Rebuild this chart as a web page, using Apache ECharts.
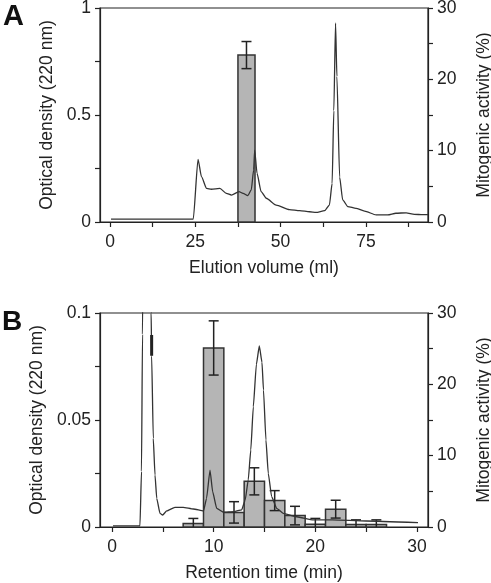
<!DOCTYPE html>
<html>
<head>
<meta charset="utf-8">
<script src="https://cdn.jsdelivr.net/npm/echarts@6/dist/echarts.min.js"></script>
<style>
html,body{margin:0;padding:0;background:#fff;}
#chart{width:491px;height:583px;}
</style>
</head>
<body>
<div id="chart"></div>
<script>
// ---- Panel A data ----
const elutionX = [0.3, 24.4, 25.8, 26.8, 28.3, 29.7, 32.2, 34.1, 35.6, 37.8, 39.0, 40.4, 41.4, 42.1, 42.4, 43.1, 44.3, 45.8, 48.7, 52.6, 55.6, 58.5, 60.4, 62.9, 64.3, 65.1, 65.6, 66.1, 66.5, 67.3, 68.2, 69.7, 72.1, 74.6, 78.0, 81.4, 83.8, 86.8, 89.2, 91.6, 93.2];
const odA = [0.013, 0.013, 0.293, 0.212, 0.157, 0.153, 0.157, 0.134, 0.126, 0.142, 0.134, 0.123, 0.15, 0.243, 0.336, 0.227, 0.142, 0.111, 0.079, 0.058, 0.053, 0.048, 0.045, 0.053, 0.079, 0.18, 0.52, 0.93, 0.68, 0.21, 0.103, 0.072, 0.064, 0.051, 0.033, 0.033, 0.041, 0.043, 0.036, 0.034, 0.034];
const fracStartA = [37.5];
const fracEndA = [42.5];
const activityA = [23.4];
const errorA = [1.9];
const xTicksA = [0, 12.5, 25, 37.5, 50, 62.5, 75, 87.5];
const xLabelsA = [0, 25, 50, 75];

// ---- Panel B data ----
const retentionX = [0.1, 2.75, 2.9, 3.0, 3.1, 3.4, 3.7, 3.85, 3.9, 4.06, 4.23, 4.4, 4.72, 4.98, 5.38, 6.19, 7.0, 8.0, 9.0, 9.3, 9.64, 9.9, 10.3, 10.95, 12.0, 12.75, 13.1, 13.4, 13.65, 13.9, 14.2, 14.49, 14.75, 14.9, 15.14, 15.37, 15.7, 16.2, 16.84, 18.16, 19.8, 21.7, 25.0, 30.1];
const odB = [0.0005, 0.0005, 0.026, 0.09, 0.16, 0.25, 0.16, 0.1, 0.080, 0.0414, 0.0243, 0.0134, 0.0064, 0.0056, 0.0075, 0.0092, 0.0092, 0.0084, 0.0075, 0.0134, 0.0266, 0.0165, 0.0087, 0.0069, 0.0072, 0.008, 0.0126, 0.022, 0.036, 0.0562, 0.076, 0.0846, 0.077, 0.064, 0.0407, 0.0251, 0.0142, 0.0087, 0.0064, 0.0048, 0.0033, 0.0033, 0.0028, 0.002];
const markB = [[3.9, 0.080], [3.9, 0.0897]];
const fracStartB = [7, 9, 11, 13, 15, 17, 19, 21, 23, 25];
const fracEndB = [9, 11, 13, 15, 17, 19, 21, 23, 25, 27];
const activityB = [0.5, 25.1, 2.05, 6.4, 3.7, 1.6, 0.4, 2.5, 0.35, 0.35];
const errorB = [0.7, 3.8, 1.5, 1.9, 1.4, 1.3, 0.8, 1.25, 0.65, 0.65];
const xTicksB = [0, 5, 10, 15, 20, 25, 30];
const xLabelsB = [0, 10, 20, 30];

const FONT = 'Liberation Sans, Arial, sans-serif';
const INK = '#222';
const FS = 17.5;

function zip(a, b) { return a.map((v, i) => [v, b[i]]); }
function barData(s, e, v) { return s.map((x, i) => [x, e[i], v[i]]); }
function errData(s, e, v, err) {
  return s.map((x, i) => [(x + e[i]) / 2, Math.max(0, v[i] - err[i]), v[i] + err[i]]);
}

function barRender(params, api) {
  const p0 = api.coord([api.value(0), 0]);
  const p1 = api.coord([api.value(1), api.value(2)]);
  return {
    type: 'rect',
    shape: { x: p0[0], y: p1[1], width: p1[0] - p0[0], height: p0[1] - p1[1] },
    style: { fill: '#b5b5b5', stroke: '#333', lineWidth: 1.5 }
  };
}
function errRender(params, api) {
  const x = api.value(0), lo = api.value(1), hi = api.value(2);
  const pl = api.coord([x, lo]);
  const ph = api.coord([x, hi]);
  const w = 5;
  const st = { stroke: '#222', lineWidth: 1.5 };
  const children = [
    { type: 'line', shape: { x1: ph[0], y1: ph[1], x2: pl[0], y2: pl[1] }, style: st },
    { type: 'line', shape: { x1: ph[0] - w, y1: ph[1], x2: ph[0] + w, y2: ph[1] }, style: st }
  ];
  if (lo > 0) {
    children.push({ type: 'line', shape: { x1: pl[0] - w, y1: pl[1], x2: pl[0] + w, y2: pl[1] }, style: st });
  }
  return { type: 'group', children: children };
}

const axisLine = { show: true, onZero: false, lineStyle: { color: INK, width: 1.2 } };
const tickStyle = { color: INK, width: 1.2 };

function xAxisCfg(grid, min, max, ticks, labels, name) {
  return {
    gridIndex: grid, type: 'value', min: min, max: max,
    axisLine: axisLine,
    axisTick: { show: true, length: 5, lineStyle: tickStyle, customValues: ticks },
    axisLabel: { customValues: labels, margin: 11, fontSize: FS, color: INK, fontFamily: FONT },
    splitLine: { show: false },
    name: name, nameLocation: 'middle', nameGap: 37,
    nameTextStyle: { fontSize: FS, color: INK, fontFamily: FONT }
  };
}
function yLeftCfg(grid, max, interval, name) {
  return {
    gridIndex: grid, type: 'value', position: 'left', min: 0, max: max, interval: interval,
    axisLine: axisLine,
    axisTick: { show: true, length: 5, lineStyle: tickStyle },
    minorTick: { show: true, splitNumber: 2, length: 5, lineStyle: tickStyle },
    axisLabel: { margin: 9, fontSize: FS, color: INK, fontFamily: FONT },
    splitLine: { show: false }, minorSplitLine: { show: false },
    name: name, nameLocation: 'middle', nameGap: 44, nameRotate: 90,
    nameTextStyle: { fontSize: FS, color: INK, fontFamily: FONT }
  };
}
function yRightCfg(grid, name) {
  return {
    gridIndex: grid, type: 'value', position: 'right', min: 0, max: 30, interval: 10,
    axisLine: axisLine,
    axisTick: { show: true, length: 5, lineStyle: tickStyle },
    minorTick: { show: true, splitNumber: 2, length: 5, lineStyle: tickStyle },
    axisLabel: { margin: 9, fontSize: FS, color: INK, fontFamily: FONT },
    splitLine: { show: false }, minorSplitLine: { show: false },
    name: name, nameLocation: 'middle', nameGap: 47, nameRotate: 90,
    nameTextStyle: { fontSize: FS, color: INK, fontFamily: FONT }
  };
}

const chart = echarts.init(document.getElementById('chart'), null, { renderer: 'canvas' });
chart.setOption({
  animation: false,
  backgroundColor: '#fff',
  textStyle: { fontFamily: FONT },
  graphic: [
    { type: 'text', left: 3, top: 2, style: { text: 'A', font: 'bold 29px ' + FONT, fill: '#111' } },
    { type: 'text', left: 2, top: 308, style: { text: 'B', font: 'bold 28px ' + FONT, fill: '#111' } }
  ],
  grid: [
    { left: 100, right: 63, top: 8, height: 214, show: true, borderColor: INK, borderWidth: 1.2, backgroundColor: 'transparent', containLabel: false, outerBoundsMode: 'none' },
    { left: 100, right: 63, top: 313, height: 214, show: true, borderColor: INK, borderWidth: 1.2, backgroundColor: 'transparent', containLabel: false, outerBoundsMode: 'none' }
  ],
  xAxis: [
    xAxisCfg(0, -2.93, 93.2, xTicksA, xLabelsA, 'Elution volume (ml)'),
    xAxisCfg(1, -1.18, 31.08, xTicksB, xLabelsB, 'Retention time (min)')
  ],
  yAxis: [
    yLeftCfg(0, 1, 0.5, 'Optical density (220 nm)'),
    yRightCfg(0, 'Mitogenic activity (%)'),
    yLeftCfg(1, 0.1, 0.05, 'Optical density (220 nm)'),
    yRightCfg(1, 'Mitogenic activity (%)')
  ],
  series: [
    { type: 'custom', xAxisIndex: 0, yAxisIndex: 1, renderItem: barRender, data: barData(fracStartA, fracEndA, activityA), encode: { x: [0, 1], y: 2 }, z: 2 },
    { type: 'custom', xAxisIndex: 0, yAxisIndex: 1, renderItem: errRender, data: errData(fracStartA, fracEndA, activityA, errorA), encode: { x: 0, y: [1, 2] }, z: 3 },
    { type: 'line', xAxisIndex: 0, yAxisIndex: 0, data: zip(elutionX, odA), showSymbol: false, smooth: 0.2, smoothMonotone: 'x', clip: true, lineStyle: { color: '#333', width: 1.3 }, z: 4 },

    { type: 'custom', xAxisIndex: 1, yAxisIndex: 3, renderItem: barRender, data: barData(fracStartB, fracEndB, activityB), encode: { x: [0, 1], y: 2 }, z: 2 },
    { type: 'custom', xAxisIndex: 1, yAxisIndex: 3, renderItem: errRender, data: errData(fracStartB, fracEndB, activityB, errorB), encode: { x: 0, y: [1, 2] }, z: 3 },
    { type: 'line', xAxisIndex: 1, yAxisIndex: 2, data: zip(retentionX, odB), showSymbol: false, smooth: 0.15, smoothMonotone: 'x', clip: true, lineStyle: { color: '#333', width: 1.3 }, z: 4 },
    { type: 'line', xAxisIndex: 1, yAxisIndex: 2, data: markB, showSymbol: false, lineStyle: { color: '#222', width: 3 }, z: 5 }
  ]
});
</script>
</body>
</html>
